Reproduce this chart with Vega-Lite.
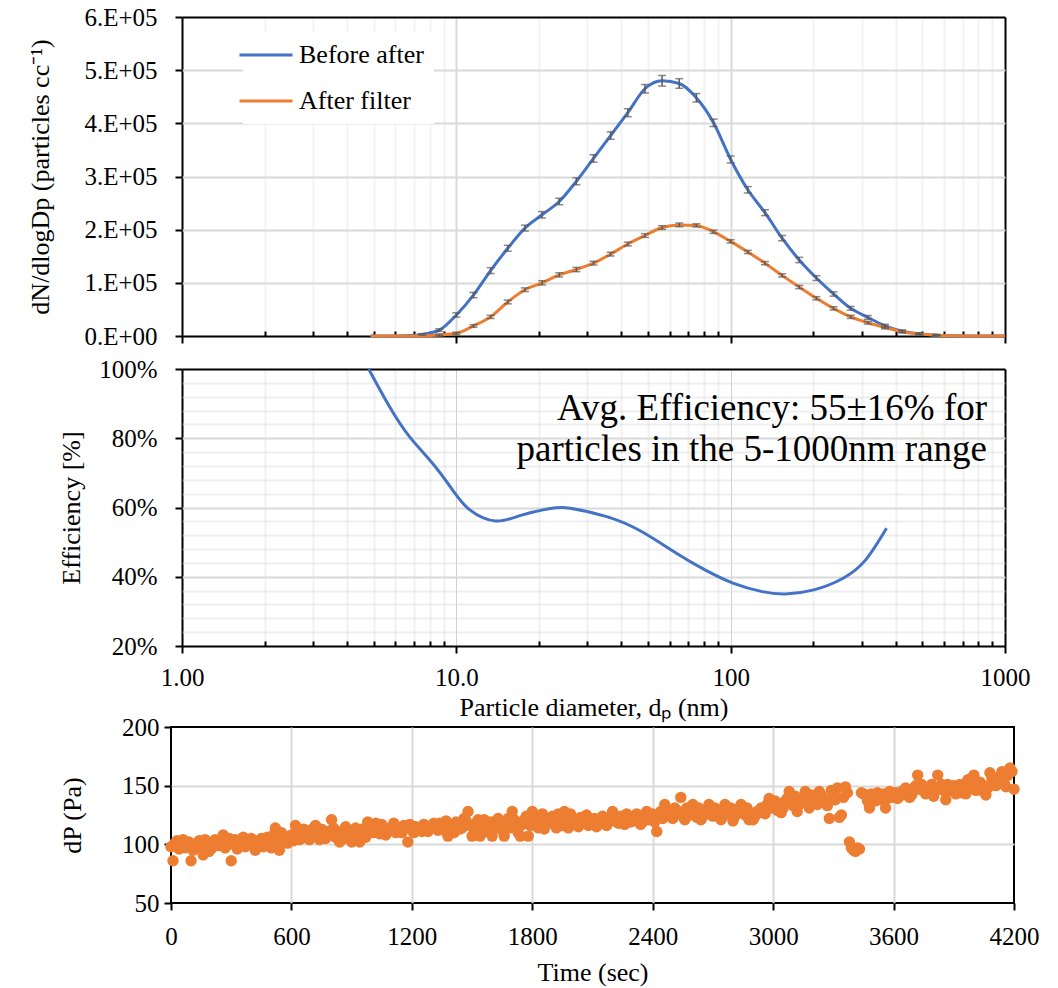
{
  "$schema": "https://vega.github.io/schema/vega-lite/v6.json",
  "background": "white",
  "padding": {"left": 27, "top": 5, "right": 5, "bottom": 5},
  "config": {
    "font": "Liberation Serif",
    "view": {"stroke": "black", "strokeWidth": 2},
    "axis": {
      "labelFont": "Liberation Serif", "titleFont": "Liberation Serif",
      "labelFontSize": 25, "titleFontSize": 26, "labelColor": "black", "titleColor": "black",
      "titleFontWeight": "normal", "tickColor": "black", "tickWidth": 2, "domain": false,
      "labelFlush": false, "labelOverlap": false, "gridWidth": 2, "tickCount": 100
    }
  },
  "datasets": {
    "dist": [
      {"d": 4.870, "v": 0, "err": 0, "series": "Before after"},
      {"d": 5.623, "v": 0, "err": 0, "series": "Before after"},
      {"d": 6.494, "v": 500, "err": 0, "series": "Before after"},
      {"d": 7.499, "v": 3000, "err": 1500, "series": "Before after"},
      {"d": 8.660, "v": 11000, "err": 2500, "series": "Before after"},
      {"d": 10.000, "v": 39600, "err": 4000, "series": "Before after"},
      {"d": 11.548, "v": 77000, "err": 5000, "series": "Before after"},
      {"d": 13.335, "v": 123000, "err": 5500, "series": "Before after"},
      {"d": 15.399, "v": 165000, "err": 5500, "series": "Before after"},
      {"d": 17.783, "v": 203000, "err": 5500, "series": "Before after"},
      {"d": 20.535, "v": 228000, "err": 6000, "series": "Before after"},
      {"d": 23.714, "v": 253000, "err": 6000, "series": "Before after"},
      {"d": 27.384, "v": 291000, "err": 6500, "series": "Before after"},
      {"d": 31.623, "v": 334000, "err": 7000, "series": "Before after"},
      {"d": 36.517, "v": 377000, "err": 7000, "series": "Before after"},
      {"d": 42.170, "v": 420000, "err": 7500, "series": "Before after"},
      {"d": 48.697, "v": 465000, "err": 8000, "series": "Before after"},
      {"d": 56.234, "v": 480000, "err": 10000, "series": "Before after"},
      {"d": 64.938, "v": 475000, "err": 9000, "series": "Before after"},
      {"d": 74.989, "v": 448000, "err": 8000, "series": "Before after"},
      {"d": 86.596, "v": 401000, "err": 7000, "series": "Before after"},
      {"d": 100.00, "v": 332000, "err": 6500, "series": "Before after"},
      {"d": 115.48, "v": 275000, "err": 6000, "series": "Before after"},
      {"d": 133.35, "v": 232000, "err": 5500, "series": "Before after"},
      {"d": 153.99, "v": 184000, "err": 5000, "series": "Before after"},
      {"d": 177.83, "v": 143000, "err": 5000, "series": "Before after"},
      {"d": 205.35, "v": 109000, "err": 4500, "series": "Before after"},
      {"d": 237.14, "v": 79000, "err": 4000, "series": "Before after"},
      {"d": 273.84, "v": 52000, "err": 3500, "series": "Before after"},
      {"d": 316.23, "v": 35000, "err": 3500, "series": "Before after"},
      {"d": 365.17, "v": 19000, "err": 3000, "series": "Before after"},
      {"d": 421.70, "v": 9000, "err": 2500, "series": "Before after"},
      {"d": 486.97, "v": 4000, "err": 2000, "series": "Before after"},
      {"d": 562.34, "v": 1500, "err": 1500, "series": "Before after"},
      {"d": 649.38, "v": 500, "err": 0, "series": "Before after"},
      {"d": 749.89, "v": 0, "err": 0, "series": "Before after"},
      {"d": 865.96, "v": 0, "err": 0, "series": "Before after"},
      {"d": 1000.0, "v": 0, "err": 0, "series": "Before after"},
      {"d": 4.870, "v": 0, "err": 0, "series": "After filter"},
      {"d": 5.623, "v": 0, "err": 0, "series": "After filter"},
      {"d": 6.494, "v": 0, "err": 0, "series": "After filter"},
      {"d": 7.499, "v": 0, "err": 0, "series": "After filter"},
      {"d": 8.660, "v": 2000, "err": 1500, "series": "After filter"},
      {"d": 10.000, "v": 5000, "err": 2000, "series": "After filter"},
      {"d": 11.548, "v": 19000, "err": 2500, "series": "After filter"},
      {"d": 13.335, "v": 36000, "err": 3000, "series": "After filter"},
      {"d": 15.399, "v": 64000, "err": 3500, "series": "After filter"},
      {"d": 17.783, "v": 87000, "err": 3500, "series": "After filter"},
      {"d": 20.535, "v": 100000, "err": 4000, "series": "After filter"},
      {"d": 23.714, "v": 115000, "err": 4000, "series": "After filter"},
      {"d": 27.384, "v": 125000, "err": 4000, "series": "After filter"},
      {"d": 31.623, "v": 137000, "err": 3500, "series": "After filter"},
      {"d": 36.517, "v": 154000, "err": 3500, "series": "After filter"},
      {"d": 42.170, "v": 173000, "err": 3500, "series": "After filter"},
      {"d": 48.697, "v": 189000, "err": 3500, "series": "After filter"},
      {"d": 56.234, "v": 204000, "err": 3500, "series": "After filter"},
      {"d": 64.938, "v": 209000, "err": 3500, "series": "After filter"},
      {"d": 74.989, "v": 208000, "err": 3000, "series": "After filter"},
      {"d": 86.596, "v": 196000, "err": 3000, "series": "After filter"},
      {"d": 100.00, "v": 178000, "err": 3000, "series": "After filter"},
      {"d": 115.48, "v": 158000, "err": 3000, "series": "After filter"},
      {"d": 133.35, "v": 137000, "err": 3000, "series": "After filter"},
      {"d": 153.99, "v": 114000, "err": 3000, "series": "After filter"},
      {"d": 177.83, "v": 92000, "err": 3000, "series": "After filter"},
      {"d": 205.35, "v": 71000, "err": 3000, "series": "After filter"},
      {"d": 237.14, "v": 52000, "err": 3000, "series": "After filter"},
      {"d": 273.84, "v": 36000, "err": 3000, "series": "After filter"},
      {"d": 316.23, "v": 25000, "err": 2500, "series": "After filter"},
      {"d": 365.17, "v": 16000, "err": 2500, "series": "After filter"},
      {"d": 421.70, "v": 8000, "err": 2000, "series": "After filter"},
      {"d": 486.97, "v": 4000, "err": 1500, "series": "After filter"},
      {"d": 562.34, "v": 1500, "err": 1000, "series": "After filter"},
      {"d": 649.38, "v": 500, "err": 0, "series": "After filter"},
      {"d": 749.89, "v": 0, "err": 0, "series": "After filter"},
      {"d": 865.96, "v": 0, "err": 0, "series": "After filter"},
      {"d": 1000.0, "v": 0, "err": 0, "series": "After filter"}
    ],
    "eff": [
      {"d": 4.79, "eff": 1.0}, {"d": 5.71, "eff": 0.891}, {"d": 6.76, "eff": 0.804},
      {"d": 8.2, "eff": 0.727}, {"d": 9.7, "eff": 0.65}, {"d": 11.2, "eff": 0.593},
      {"d": 13.9, "eff": 0.561}, {"d": 17.3, "eff": 0.578}, {"d": 22.0, "eff": 0.597},
      {"d": 26.0, "eff": 0.598}, {"d": 35.6, "eff": 0.573}, {"d": 47.5, "eff": 0.53},
      {"d": 63.4, "eff": 0.468}, {"d": 80.6, "eff": 0.42}, {"d": 102.5, "eff": 0.381},
      {"d": 130.4, "eff": 0.357}, {"d": 158, "eff": 0.35}, {"d": 201, "eff": 0.362},
      {"d": 256, "eff": 0.395}, {"d": 310, "eff": 0.448}, {"d": 370, "eff": 0.54}
    ],
    "dp": [
      {"t": 0, "dp": 98}, {"t": 10, "dp": 86}, {"t": 20, "dp": 101}, {"t": 40, "dp": 96}, {"t": 60, "dp": 104},
      {"t": 80, "dp": 99}, {"t": 100, "dp": 86}, {"t": 120, "dp": 97}, {"t": 140, "dp": 103}, {"t": 160, "dp": 91},
      {"t": 180, "dp": 100}, {"t": 200, "dp": 96}, {"t": 220, "dp": 104}, {"t": 240, "dp": 99}, {"t": 260, "dp": 108},
      {"t": 280, "dp": 101}, {"t": 300, "dp": 86}, {"t": 320, "dp": 104}, {"t": 340, "dp": 99}, {"t": 360, "dp": 106},
      {"t": 380, "dp": 100}, {"t": 400, "dp": 105}, {"t": 420, "dp": 95}, {"t": 440, "dp": 103}, {"t": 460, "dp": 98},
      {"t": 480, "dp": 106}, {"t": 500, "dp": 97}, {"t": 520, "dp": 114}, {"t": 540, "dp": 95}, {"t": 560, "dp": 105},
      {"t": 580, "dp": 101}, {"t": 600, "dp": 108}, {"t": 620, "dp": 116}, {"t": 640, "dp": 104}, {"t": 660, "dp": 113},
      {"t": 680, "dp": 106}, {"t": 700, "dp": 110}, {"t": 720, "dp": 116}, {"t": 740, "dp": 104}, {"t": 760, "dp": 108},
      {"t": 780, "dp": 111}, {"t": 800, "dp": 121}, {"t": 820, "dp": 106}, {"t": 840, "dp": 102}, {"t": 860, "dp": 112},
      {"t": 880, "dp": 108}, {"t": 900, "dp": 102}, {"t": 920, "dp": 114}, {"t": 940, "dp": 102}, {"t": 960, "dp": 110},
      {"t": 980, "dp": 119}, {"t": 1000, "dp": 113}, {"t": 1020, "dp": 118}, {"t": 1040, "dp": 109}, {"t": 1060, "dp": 114},
      {"t": 1080, "dp": 111}, {"t": 1100, "dp": 115}, {"t": 1120, "dp": 110}, {"t": 1140, "dp": 113}, {"t": 1160, "dp": 116},
      {"t": 1180, "dp": 102}, {"t": 1200, "dp": 112}, {"t": 1220, "dp": 115}, {"t": 1240, "dp": 113}, {"t": 1260, "dp": 117},
      {"t": 1280, "dp": 111}, {"t": 1300, "dp": 116}, {"t": 1320, "dp": 114}, {"t": 1340, "dp": 118}, {"t": 1360, "dp": 112},
      {"t": 1380, "dp": 107}, {"t": 1400, "dp": 116}, {"t": 1420, "dp": 119}, {"t": 1440, "dp": 113}, {"t": 1460, "dp": 122},
      {"t": 1480, "dp": 128}, {"t": 1500, "dp": 107}, {"t": 1520, "dp": 118}, {"t": 1540, "dp": 107}, {"t": 1560, "dp": 121},
      {"t": 1580, "dp": 115}, {"t": 1600, "dp": 107}, {"t": 1620, "dp": 120}, {"t": 1640, "dp": 117}, {"t": 1660, "dp": 107},
      {"t": 1680, "dp": 122}, {"t": 1700, "dp": 128}, {"t": 1720, "dp": 115}, {"t": 1740, "dp": 107}, {"t": 1760, "dp": 121},
      {"t": 1780, "dp": 107}, {"t": 1800, "dp": 128}, {"t": 1820, "dp": 118}, {"t": 1840, "dp": 122}, {"t": 1860, "dp": 113},
      {"t": 1880, "dp": 119}, {"t": 1900, "dp": 124}, {"t": 1920, "dp": 114}, {"t": 1940, "dp": 121}, {"t": 1960, "dp": 128},
      {"t": 1980, "dp": 114}, {"t": 2000, "dp": 119}, {"t": 2020, "dp": 117}, {"t": 2040, "dp": 123}, {"t": 2060, "dp": 119},
      {"t": 2080, "dp": 116}, {"t": 2100, "dp": 120}, {"t": 2120, "dp": 115}, {"t": 2140, "dp": 121}, {"t": 2160, "dp": 118},
      {"t": 2180, "dp": 122}, {"t": 2200, "dp": 128}, {"t": 2220, "dp": 119}, {"t": 2240, "dp": 124}, {"t": 2260, "dp": 117},
      {"t": 2280, "dp": 122}, {"t": 2300, "dp": 120}, {"t": 2320, "dp": 126}, {"t": 2340, "dp": 117}, {"t": 2360, "dp": 124},
      {"t": 2380, "dp": 121}, {"t": 2400, "dp": 126}, {"t": 2420, "dp": 111}, {"t": 2440, "dp": 128}, {"t": 2460, "dp": 134},
      {"t": 2480, "dp": 125}, {"t": 2500, "dp": 122}, {"t": 2520, "dp": 129}, {"t": 2540, "dp": 140}, {"t": 2560, "dp": 121},
      {"t": 2580, "dp": 127}, {"t": 2600, "dp": 134}, {"t": 2620, "dp": 123}, {"t": 2640, "dp": 121}, {"t": 2660, "dp": 128},
      {"t": 2680, "dp": 134}, {"t": 2700, "dp": 124}, {"t": 2720, "dp": 128}, {"t": 2740, "dp": 121}, {"t": 2760, "dp": 134},
      {"t": 2780, "dp": 127}, {"t": 2800, "dp": 120}, {"t": 2820, "dp": 130}, {"t": 2840, "dp": 134}, {"t": 2860, "dp": 125},
      {"t": 2880, "dp": 121}, {"t": 2900, "dp": 121}, {"t": 2920, "dp": 128}, {"t": 2940, "dp": 131}, {"t": 2960, "dp": 126},
      {"t": 2980, "dp": 139}, {"t": 3000, "dp": 134}, {"t": 3020, "dp": 129}, {"t": 3040, "dp": 127}, {"t": 3060, "dp": 137},
      {"t": 3080, "dp": 145}, {"t": 3100, "dp": 133}, {"t": 3120, "dp": 128}, {"t": 3140, "dp": 138}, {"t": 3160, "dp": 145},
      {"t": 3180, "dp": 131}, {"t": 3200, "dp": 139}, {"t": 3220, "dp": 134}, {"t": 3240, "dp": 142}, {"t": 3260, "dp": 136},
      {"t": 3280, "dp": 122}, {"t": 3300, "dp": 142}, {"t": 3320, "dp": 148}, {"t": 3340, "dp": 125}, {"t": 3360, "dp": 149},
      {"t": 3380, "dp": 102}, {"t": 3400, "dp": 95}, {"t": 3410, "dp": 94}, {"t": 3420, "dp": 97}, {"t": 3430, "dp": 96},
      {"t": 3440, "dp": 144}, {"t": 3460, "dp": 142}, {"t": 3480, "dp": 131}, {"t": 3500, "dp": 140}, {"t": 3520, "dp": 144},
      {"t": 3540, "dp": 138}, {"t": 3560, "dp": 131}, {"t": 3580, "dp": 145}, {"t": 3600, "dp": 140}, {"t": 3620, "dp": 139},
      {"t": 3640, "dp": 145}, {"t": 3660, "dp": 148}, {"t": 3680, "dp": 140}, {"t": 3700, "dp": 146}, {"t": 3720, "dp": 159},
      {"t": 3740, "dp": 151}, {"t": 3760, "dp": 143}, {"t": 3780, "dp": 148}, {"t": 3800, "dp": 141}, {"t": 3820, "dp": 159},
      {"t": 3840, "dp": 151}, {"t": 3860, "dp": 138}, {"t": 3880, "dp": 146}, {"t": 3900, "dp": 150}, {"t": 3920, "dp": 148},
      {"t": 3940, "dp": 144}, {"t": 3960, "dp": 143}, {"t": 3980, "dp": 152}, {"t": 4000, "dp": 159}, {"t": 4020, "dp": 149},
      {"t": 4040, "dp": 146}, {"t": 4060, "dp": 142}, {"t": 4080, "dp": 161}, {"t": 4100, "dp": 152}, {"t": 4120, "dp": 155},
      {"t": 4140, "dp": 162}, {"t": 4160, "dp": 149}, {"t": 4180, "dp": 165}, {"t": 4200, "dp": 147},
      {"t": 30, "dp": 103}, {"t": 50, "dp": 99}, {"t": 70, "dp": 97}, {"t": 90, "dp": 102}, {"t": 110, "dp": 95},
      {"t": 130, "dp": 100}, {"t": 150, "dp": 98}, {"t": 170, "dp": 104}, {"t": 190, "dp": 94}, {"t": 210, "dp": 101},
      {"t": 230, "dp": 99}, {"t": 250, "dp": 103}, {"t": 270, "dp": 97}, {"t": 290, "dp": 105}, {"t": 310, "dp": 100},
      {"t": 330, "dp": 96}, {"t": 350, "dp": 102}, {"t": 370, "dp": 98}, {"t": 390, "dp": 104}, {"t": 410, "dp": 101},
      {"t": 430, "dp": 99}, {"t": 450, "dp": 105}, {"t": 470, "dp": 101}, {"t": 490, "dp": 103}, {"t": 510, "dp": 108},
      {"t": 530, "dp": 100}, {"t": 550, "dp": 110}, {"t": 570, "dp": 104}, {"t": 590, "dp": 107}, {"t": 610, "dp": 103},
      {"t": 630, "dp": 109}, {"t": 650, "dp": 105}, {"t": 670, "dp": 112}, {"t": 690, "dp": 104}, {"t": 710, "dp": 114},
      {"t": 730, "dp": 108}, {"t": 750, "dp": 113}, {"t": 770, "dp": 105}, {"t": 790, "dp": 110}, {"t": 810, "dp": 114},
      {"t": 830, "dp": 109}, {"t": 850, "dp": 104}, {"t": 870, "dp": 115}, {"t": 890, "dp": 111}, {"t": 910, "dp": 107},
      {"t": 930, "dp": 110}, {"t": 950, "dp": 113}, {"t": 970, "dp": 106}, {"t": 990, "dp": 116}, {"t": 1010, "dp": 110},
      {"t": 1030, "dp": 114}, {"t": 1050, "dp": 117}, {"t": 1070, "dp": 108}, {"t": 1090, "dp": 113}, {"t": 1110, "dp": 118},
      {"t": 1130, "dp": 114}, {"t": 1150, "dp": 110}, {"t": 1170, "dp": 114}, {"t": 1190, "dp": 117}, {"t": 1210, "dp": 110},
      {"t": 1230, "dp": 114}, {"t": 1250, "dp": 111}, {"t": 1270, "dp": 115}, {"t": 1290, "dp": 113}, {"t": 1310, "dp": 118},
      {"t": 1330, "dp": 112}, {"t": 1350, "dp": 115}, {"t": 1370, "dp": 120}, {"t": 1390, "dp": 113}, {"t": 1410, "dp": 110},
      {"t": 1430, "dp": 117}, {"t": 1450, "dp": 114}, {"t": 1470, "dp": 120}, {"t": 1490, "dp": 116}, {"t": 1510, "dp": 113},
      {"t": 1530, "dp": 121}, {"t": 1550, "dp": 116}, {"t": 1570, "dp": 111}, {"t": 1590, "dp": 119}, {"t": 1610, "dp": 114},
      {"t": 1630, "dp": 122}, {"t": 1650, "dp": 112}, {"t": 1670, "dp": 118}, {"t": 1690, "dp": 114}, {"t": 1710, "dp": 121},
      {"t": 1730, "dp": 110}, {"t": 1750, "dp": 117}, {"t": 1770, "dp": 124}, {"t": 1790, "dp": 116}, {"t": 1810, "dp": 121},
      {"t": 1830, "dp": 114}, {"t": 1850, "dp": 126}, {"t": 1870, "dp": 117}, {"t": 1890, "dp": 121}, {"t": 1910, "dp": 118},
      {"t": 1930, "dp": 126}, {"t": 1950, "dp": 116}, {"t": 1970, "dp": 122}, {"t": 1990, "dp": 126}, {"t": 2010, "dp": 121},
      {"t": 2030, "dp": 115}, {"t": 2050, "dp": 120}, {"t": 2070, "dp": 125}, {"t": 2090, "dp": 118}, {"t": 2110, "dp": 122},
      {"t": 2130, "dp": 119}, {"t": 2150, "dp": 124}, {"t": 2170, "dp": 116}, {"t": 2190, "dp": 120}, {"t": 2210, "dp": 123},
      {"t": 2230, "dp": 118}, {"t": 2250, "dp": 121}, {"t": 2270, "dp": 126}, {"t": 2290, "dp": 119}, {"t": 2310, "dp": 123},
      {"t": 2330, "dp": 121}, {"t": 2350, "dp": 119}, {"t": 2370, "dp": 128}, {"t": 2390, "dp": 122}, {"t": 2410, "dp": 119},
      {"t": 2430, "dp": 124}, {"t": 2450, "dp": 122}, {"t": 2470, "dp": 128}, {"t": 2490, "dp": 124}, {"t": 2510, "dp": 131},
      {"t": 2530, "dp": 126}, {"t": 2550, "dp": 124}, {"t": 2570, "dp": 131}, {"t": 2590, "dp": 125}, {"t": 2610, "dp": 128},
      {"t": 2630, "dp": 131}, {"t": 2650, "dp": 124}, {"t": 2670, "dp": 126}, {"t": 2690, "dp": 128}, {"t": 2710, "dp": 131},
      {"t": 2730, "dp": 126}, {"t": 2750, "dp": 124}, {"t": 2770, "dp": 130}, {"t": 2790, "dp": 131}, {"t": 2810, "dp": 124},
      {"t": 2830, "dp": 127}, {"t": 2850, "dp": 129}, {"t": 2870, "dp": 131}, {"t": 2890, "dp": 125}, {"t": 2910, "dp": 124},
      {"t": 2930, "dp": 127}, {"t": 2950, "dp": 129}, {"t": 2970, "dp": 134}, {"t": 2990, "dp": 131}, {"t": 3010, "dp": 137},
      {"t": 3030, "dp": 134}, {"t": 3050, "dp": 131}, {"t": 3070, "dp": 139}, {"t": 3090, "dp": 136}, {"t": 3110, "dp": 141},
      {"t": 3130, "dp": 134}, {"t": 3150, "dp": 140}, {"t": 3170, "dp": 136}, {"t": 3190, "dp": 142}, {"t": 3210, "dp": 137},
      {"t": 3230, "dp": 145}, {"t": 3250, "dp": 139}, {"t": 3270, "dp": 133}, {"t": 3290, "dp": 146}, {"t": 3310, "dp": 138},
      {"t": 3330, "dp": 123}, {"t": 3350, "dp": 140}, {"t": 3370, "dp": 144}, {"t": 3390, "dp": 97}, {"t": 3450, "dp": 143},
      {"t": 3470, "dp": 137}, {"t": 3490, "dp": 143}, {"t": 3510, "dp": 137}, {"t": 3530, "dp": 141}, {"t": 3550, "dp": 143},
      {"t": 3570, "dp": 139}, {"t": 3590, "dp": 142}, {"t": 3610, "dp": 144}, {"t": 3630, "dp": 141}, {"t": 3650, "dp": 143},
      {"t": 3670, "dp": 146}, {"t": 3690, "dp": 142}, {"t": 3710, "dp": 150}, {"t": 3730, "dp": 147}, {"t": 3750, "dp": 149},
      {"t": 3770, "dp": 145}, {"t": 3790, "dp": 151}, {"t": 3810, "dp": 146}, {"t": 3830, "dp": 149}, {"t": 3850, "dp": 146},
      {"t": 3870, "dp": 151}, {"t": 3890, "dp": 148}, {"t": 3910, "dp": 143}, {"t": 3930, "dp": 151}, {"t": 3950, "dp": 148},
      {"t": 3970, "dp": 155}, {"t": 3990, "dp": 149}, {"t": 4010, "dp": 146}, {"t": 4030, "dp": 153}, {"t": 4050, "dp": 150},
      {"t": 4070, "dp": 148}, {"t": 4090, "dp": 156}, {"t": 4110, "dp": 150}, {"t": 4130, "dp": 158}, {"t": 4150, "dp": 153},
      {"t": 4170, "dp": 159}, {"t": 4190, "dp": 162}
    ]
  },
  "spacing": -6,
  "vconcat": [
    {
      "spacing": 8,
      "resolve": {"scale": {"color": "independent"}},
      "vconcat": [
        {
          "width": 834,
          "height": 319,
          "view": {"stroke": null},
          "data": {"name": "dist"},
          "encoding": {
            "x": {
              "field": "d", "type": "quantitative",
              "scale": {"type": "log", "domain": [1, 1000], "nice": false, "range": [11, 834]},
              "axis": {
                "title": null, "labels": false,
                "values": [1,2,3,4,5,6,7,8,9,10,20,30,40,50,60,70,80,90,100,200,300,400,500,600,700,800,900,1000],
                "grid": true,
                "gridColor": {"condition": {"test": "datum.value < 1.01 || datum.value > 999", "value": "black"}, "value": "#d9d9d9"},
                "gridOpacity": {"condition": {"test": "abs(log(datum.value)/LN10 - round(log(datum.value)/LN10)) < 0.001", "value": 1}, "value": 0.35},
                "tickSize": {"condition": {"test": "abs(log(datum.value)/LN10 - round(log(datum.value)/LN10)) < 0.001", "value": 7}, "value": -5}
              }
            },
            "y": {
              "field": "v", "type": "quantitative",
              "scale": {"domain": [0, 600000], "nice": false},
              "axis": {
                "title": "dN/dlogDp (particles cc⁻¹)",
                "values": [0, 100000, 200000, 300000, 400000, 500000, 600000],
                "labelExpr": "datum.value == 0 ? '0.E+00' : format(datum.value / 100000, '.0f') + '.E+05'",
                "grid": true,
                "gridColor": {"condition": {"test": "datum.value < 1 || datum.value > 599999", "value": "black"}, "value": "#d9d9d9"},
                "tickSize": 7, "labelPadding": 18, "titlePadding": 30, "offset": -11
              }
            }
          },
          "layer": [
            {
              "mark": {"type": "line", "interpolate": "monotone", "strokeWidth": 3},
              "encoding": {
                "color": {
                  "field": "series", "type": "nominal",
                  "scale": {"domain": ["Before after", "After filter"], "range": ["#4472C4", "#ED7D31"]},
                  "legend": {
                    "title": null, "orient": "none", "legendX": 72, "legendY": 15,
                    "fillColor": "white", "padding": 10,
                    "symbolType": "M-2.65,0H2.65", "symbolSize": 400, "symbolStrokeWidth": 3,
                    "labelFont": "Liberation Serif", "labelFontSize": 26, "labelColor": "black",
                    "labelOffset": 20, "rowPadding": 20
                  }
                }
              }
            },
            {
              "transform": [{"filter": "datum.err > 0"}],
              "mark": {"type": "errorbar", "ticks": true, "color": "#595959", "thickness": 1.5, "size": 8},
              "encoding": {"yError": {"field": "err"}}
            }
          ]
        },
        {
          "width": 834,
          "height": 277,
          "view": {"stroke": null},
          "layer": [
            {
              "data": {"name": "eff"},
              "mark": {"type": "line", "interpolate": "natural", "strokeWidth": 3, "color": "#4472C4"},
              "encoding": {
                "x": {
                  "field": "d", "type": "quantitative",
                  "scale": {"type": "log", "domain": [1, 1000], "nice": false, "range": [11, 834]},
                  "axis": {
                    "title": "Particle diameter, dₚ (nm)",
                    "values": [1,2,3,4,5,6,7,8,9,10,20,30,40,50,60,70,80,90,100,200,300,400,500,600,700,800,900,1000],
                    "labelExpr": "datum.value == 1 ? '1.00' : datum.value == 10 ? '10.0' : datum.value == 100 ? '100' : datum.value == 1000 ? '1000' : ''",
                    "grid": true,
                    "gridColor": {"condition": {"test": "datum.value < 1.01 || datum.value > 999", "value": "black"}, "value": "#d0d0d0"},
                    "gridWidth": {"condition": {"test": "datum.value == 10 || datum.value == 100", "value": 1}, "value": 2},
                    "gridOpacity": {"condition": {"test": "abs(log(datum.value)/LN10 - round(log(datum.value)/LN10)) < 0.001", "value": 1}, "value": 0.3},
                    "tickSize": {"condition": {"test": "abs(log(datum.value)/LN10 - round(log(datum.value)/LN10)) < 0.001", "value": 7}, "value": -5},
                    "labelPadding": 12, "titlePadding": 4
                  }
                },
                "y": {
                  "field": "eff", "type": "quantitative",
                  "scale": {"domain": [0.2, 1.0], "nice": false},
                  "axis": {
                    "title": "Efficiency [%]",
                    "values": [0.2,0.24,0.28,0.32,0.36,0.4,0.44,0.48,0.52,0.56,0.6,0.64,0.68,0.72,0.76,0.8,0.84,0.88,0.92,0.96,1.0],
                    "labelExpr": "abs(datum.value*5 - round(datum.value*5)) < 0.001 ? format(datum.value, '.0%') : ''",
                    "grid": true,
                    "gridColor": {"condition": {"test": "datum.value < 0.201 || datum.value > 0.999", "value": "black"}, "value": "#d9d9d9"},
                    "gridOpacity": {"condition": {"test": "abs(datum.value*5 - round(datum.value*5)) < 0.001", "value": 1}, "value": 0.45},
                    "tickSize": {"condition": {"test": "abs(datum.value*5 - round(datum.value*5)) < 0.001", "value": 7}, "value": 0},
                    "labelPadding": 18, "titlePadding": 14, "offset": -11
                  }
                }
              }
            },
            {
              "data": {"values": [{}]},
              "mark": {"type": "text", "align": "right", "baseline": "alphabetic", "font": "Liberation Serif", "fontSize": 37, "lineHeight": 41, "color": "black"},
              "encoding": {
                "x": {"datum": 860, "type": "quantitative"},
                "y": {"datum": 0.853, "type": "quantitative"},
                "text": {"value": ["Avg. Efficiency: 55±16% for", "particles in the 5-1000nm range"]}
              }
            }
          ]
        }
      ]
    },
    {
      "width": 843,
      "height": 176,
      "data": {"name": "dp"},
      "mark": {"type": "circle", "size": 130, "color": "#ED7D31", "opacity": 1},
      "encoding": {
        "x": {
          "field": "t", "type": "quantitative",
          "scale": {"domain": [0, 4200], "nice": false},
          "axis": {
            "title": "Time (sec)", "values": [0, 600, 1200, 1800, 2400, 3000, 3600, 4200], "format": "d",
            "grid": true, "gridColor": "#d9d9d9",
            "gridOpacity": {"condition": {"test": "datum.value < 1 || datum.value > 4199", "value": 0}, "value": 1},
            "tickSize": 7, "labelPadding": 14, "titlePadding": 10
          }
        },
        "y": {
          "field": "dp", "type": "quantitative",
          "scale": {"domain": [50, 200], "nice": false},
          "axis": {
            "title": "dP (Pa)", "values": [50, 100, 150, 200],
            "grid": true, "gridColor": "#d9d9d9",
            "gridOpacity": {"condition": {"test": "datum.value < 51 || datum.value > 199", "value": 0}, "value": 1},
            "tickSize": 7, "labelPadding": 5, "titlePadding": 36
          }
        }
      }
    }
  ]
}
